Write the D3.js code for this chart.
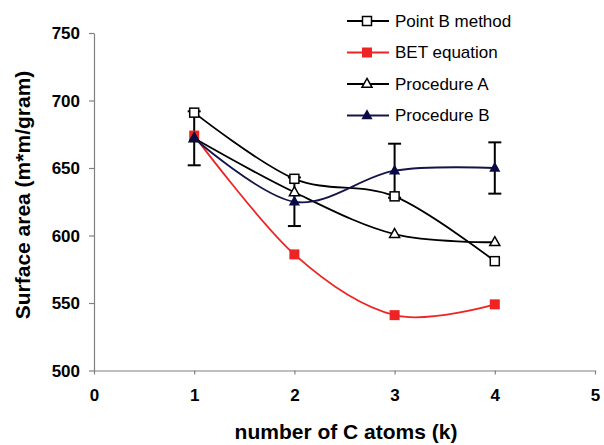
<!DOCTYPE html>
<html>
<head>
<meta charset="utf-8">
<script src="https://cdn.jsdelivr.net/npm/d3@7"></script>
<style>
  body { margin: 0; background: #fff; }
  text { font-family: Arial, "Liberation Sans", sans-serif; }
</style>
</head>
<body>
<div id="chart"></div>
<script>
// data
const kValues = [1, 2, 3, 4];
const pointB = [691, 642, 629, 581];
const betEquation = [674, 586, 541, 549];
const procedureA = [672, 632, 601, 595];
const procedureB = [672, 625, 648, 650];
const procedureBErr = [20, 18, 20, 19];
const xTicks = [0, 1, 2, 3, 4, 5];
const yTicks = [500, 550, 600, 650, 700, 750];

const series = [
  { name: 'Point B method', values: pointB, color: '#000', marker: 'square', fill: '#fff' },
  { name: 'BET equation', values: betEquation, color: '#ee2424', marker: 'square', fill: '#ee2424' },
  { name: 'Procedure A', values: procedureA, color: '#000', marker: 'triangle', fill: '#fff' },
  { name: 'Procedure B', values: procedureB, color: '#14144a', marker: 'triangle', fill: '#0a0a45' }
];

const width = 604, height = 445;
const margin = { top: 33, right: 9, bottom: 74.5, left: 94 };
const w = width - margin.left - margin.right;
const h = height - margin.top - margin.bottom;

const svg = d3.select('#chart').append('svg')
  .attr('width', width)
  .attr('height', height);

const chart = svg.append('g')
  .attr('transform', `translate(${margin.left},${margin.top})`);

const x = d3.scaleLinear().domain([0, 5]).range([0, w]);
const y = d3.scaleLinear().domain([500, 750]).range([h, 0]);

// axes
const xAxis = chart.append('g')
  .attr('transform', `translate(0,${h})`)
  .call(d3.axisBottom(x).tickValues(xTicks).tickFormat(d3.format('d'))
    .tickSize(4).tickSizeOuter(0).tickPadding(14));
const yAxis = chart.append('g')
  .call(d3.axisLeft(y).tickValues(yTicks).tickFormat(d3.format('d'))
    .tickSize(5).tickSizeOuter(0).tickPadding(9));

[xAxis, yAxis].forEach(a => {
  a.select('.domain').attr('stroke', '#808080').attr('stroke-width', 1.2);
  a.selectAll('.tick line').attr('stroke', '#808080').attr('stroke-width', 1.2);
  a.selectAll('.tick text')
    .attr('fill', '#000')
    .style('font-size', '17px')
    .style('font-weight', 'bold')
    .style('font-family', 'Arial, "Liberation Sans", sans-serif');
});
yAxis.selectAll('.tick text').attr('dy', '0.35em');

// axis titles
svg.append('text')
  .attr('x', 346)
  .attr('y', 439)
  .attr('text-anchor', 'middle')
  .style('font-size', '21px')
  .style('font-weight', 'bold')
  .text('number of C atoms (k)');

svg.append('text')
  .attr('transform', 'translate(30,195) rotate(-90)')
  .attr('text-anchor', 'middle')
  .style('font-size', '21px')
  .style('font-weight', 'bold')
  .text('Surface area (m*m/gram)');

// error bars for procedure B
const capW = 6.5;
const errG = chart.append('g').attr('stroke', '#000').attr('stroke-width', 2);
kValues.forEach((k, i) => {
  const cx = x(k);
  const top = y(procedureB[i] + procedureBErr[i]);
  const bot = y(procedureB[i] - procedureBErr[i]);
  errG.append('line').attr('x1', cx).attr('x2', cx).attr('y1', top).attr('y2', bot);
  errG.append('line').attr('x1', cx - capW).attr('x2', cx + capW).attr('y1', top).attr('y2', top);
  errG.append('line').attr('x1', cx - capW).attr('x2', cx + capW).attr('y1', bot).attr('y2', bot);
});

const line = d3.line()
  .x((d, i) => x(kValues[i]))
  .y(d => y(d))
  .curve(d3.curveCatmullRom.alpha(0));

function drawMarker(g, type, cx, cy, s) {
  if (type === 'square') {
    g.append('rect')
      .attr('x', cx - s.size / 2).attr('y', cy - s.size / 2)
      .attr('width', s.size).attr('height', s.size)
      .attr('fill', s.fill).attr('stroke', s.stroke).attr('stroke-width', s.sw);
  } else {
    const r = s.size * 0.62;
    g.append('path')
      .attr('d', `M${cx},${cy - r}L${cx + r * 0.9},${cy + r * 0.6}L${cx - r * 0.9},${cy + r * 0.6}Z`)
      .attr('fill', s.fill).attr('stroke', s.stroke).attr('stroke-width', s.sw);
  }
}

series.forEach(s => {
  const g = chart.append('g');
  g.append('path')
    .datum(s.values)
    .attr('d', line)
    .attr('fill', 'none')
    .attr('stroke', s.color)
    .attr('stroke-width', 1.8);
  s.values.forEach((v, i) => {
    drawMarker(g, s.marker, x(kValues[i]), y(v), {
      size: s.fill === '#fff' ? 9 : 10,
      fill: s.fill,
      stroke: s.fill === '#fff' ? '#000' : 'none',
      sw: 1.5
    });
  });
});

// legend
const legend = svg.append('g');
series.forEach((s, i) => {
  const ly = 21 + i * 31.5;
  legend.append('line')
    .attr('x1', 347).attr('x2', 389)
    .attr('y1', ly).attr('y2', ly)
    .attr('stroke', s.color).attr('stroke-width', 1.8);
  drawMarker(legend, s.marker, 367, ly, {
    size: s.fill === '#fff' ? 9 : 10,
    fill: s.fill,
    stroke: s.fill === '#fff' ? '#000' : 'none',
    sw: 1.5
  });
  legend.append('text')
    .attr('x', 395)
    .attr('y', ly)
    .attr('dy', '0.35em')
    .style('font-size', '17px')
    .text(s.name);
});
</script>
</body>
</html>
